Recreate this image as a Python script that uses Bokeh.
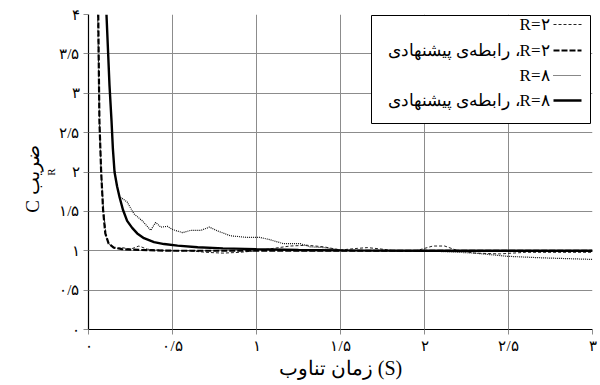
from bokeh.plotting import figure
from bokeh.models import ColumnDataSource, FixedTicker, Title
from bokeh.core.properties import value
from bokeh.embed import file_html
from bokeh.resources import INLINE

# ---- data -------------------------------------------------------------
# R = 2, measured response
r2_x = [0.055, 0.06, 0.066, 0.075, 0.09, 0.105, 0.115, 0.125, 0.14, 0.17, 0.2, 0.25,
        0.3, 0.35, 0.4, 0.5, 0.6, 0.7, 0.8, 0.9, 1.0, 1.1, 1.2, 1.3, 1.4, 1.5, 1.6,
        1.66, 1.75, 1.85, 1.95, 2.05, 2.12, 2.2, 2.3, 2.45, 2.6, 2.8, 3.0]
r2_y = [4.0, 3.3, 2.6, 2.0, 1.5, 1.18, 1.12, 1.08, 1.05, 1.03, 1.04, 1.02,
        1.06, 1.02, 1.01, 1.0, 1.0, 0.98, 0.97, 0.98, 1.0, 1.03, 1.06, 1.07, 1.05, 1.01, 1.03,
        1.04, 1.02, 0.99, 1.0, 1.06, 1.06, 1.0, 0.97, 0.96, 0.98, 0.98, 0.98]

# R = 2, proposed relation
r2p_x = [0.058, 0.062, 0.065, 0.075, 0.087, 0.10, 0.12, 0.15, 0.2, 0.3, 0.5, 1.0, 2.0, 3.0]
r2p_y = [4.0, 3.2, 2.65, 2.02, 1.51, 1.22, 1.09, 1.04, 1.02, 1.01, 1.0, 1.0, 1.0, 1.0]

# R = 8, measured response
r8_x = [0.19, 0.23, 0.27, 0.32, 0.37, 0.40, 0.43, 0.47, 0.50, 0.56, 0.61, 0.67, 0.72,
        0.77, 0.845, 0.94, 1.02, 1.08, 1.16, 1.26, 1.32, 1.40, 1.5, 1.7, 2.0, 2.3,
        2.49, 2.7, 3.0]
r8_y = [1.68, 1.62, 1.47, 1.38, 1.26, 1.36, 1.30, 1.31, 1.27, 1.23, 1.26, 1.26, 1.30,
        1.25, 1.19, 1.17, 1.17, 1.14, 1.09, 1.09, 1.05, 1.04, 1.01, 1.0, 1.0, 0.97,
        0.93, 0.91, 0.89]

# R = 8, proposed relation
r8p_x = [0.107, 0.115, 0.125, 0.137, 0.145, 0.155, 0.17, 0.185, 0.205, 0.23, 0.26, 0.29,
         0.33, 0.39, 0.45, 0.53, 0.65, 0.8, 1.0, 1.25, 1.5, 2.0, 2.5, 3.0]
r8p_y = [4.0, 3.6, 3.1, 2.65, 2.3, 2.0, 1.82, 1.68, 1.52, 1.38, 1.29, 1.22,
         1.16, 1.11, 1.085, 1.065, 1.045, 1.03, 1.02, 1.01, 1.005, 1.0, 1.0, 1.0]

x_ticks = [0, 0.5, 1, 1.5, 2, 2.5, 3]
x_tick_labels = ["۰", "۰/۵", "۱", "۱/۵", "۲", "۲/۵", "۳"]
y_ticks = [0, 0.5, 1, 1.5, 2, 2.5, 3, 3.5, 4]
y_tick_labels = ["۰", "۰/۵", "۱", "۱/۵", "۲", "۲/۵", "۳", "۳/۵", "۴"]

legend_names = ["R=۲", "R=۲، رابطه‌ی پیشنهادی", "R=۸", "R=۸، رابطه‌ی پیشنهادی"]
x_title = "زمان تناوب (S)"
y_title = "C    ضریب"
y_title_sub = "R"

# ---- figure -----------------------------------------------------------
W, H = 600, 385
LEFT, RIGHT, TOP, BOTTOM = 88, 8, 14, 56
SERIF = "Liberation Serif"
GRID = "#8c8c8c"

p = figure(width=W, height=H, x_range=(0, 3), y_range=(0, 4),
           output_backend="svg", toolbar_location=None,
           min_border_left=LEFT, min_border_right=RIGHT,
           min_border_top=TOP, min_border_bottom=BOTTOM)
p.outline_line_color = None
p.background_fill_color = "white"
p.border_fill_color = "white"

p.xgrid.ticker = FixedTicker(ticks=x_ticks)
p.ygrid.ticker = FixedTicker(ticks=y_ticks)
p.grid.grid_line_color = GRID
p.grid.grid_line_width = 1

for ax, ticks, labels in ((p.xaxis, x_ticks, x_tick_labels), (p.yaxis, y_ticks, y_tick_labels)):
    ax.ticker = FixedTicker(ticks=ticks)
    ax.major_label_overrides = {t: s for t, s in zip(ticks, labels)}
    ax.minor_tick_line_color = None
    ax.major_tick_in = 0
    ax.major_tick_out = 5
    ax.major_tick_line_color = GRID
    ax.axis_line_color = "black"
    ax.axis_line_width = 1.2
    ax.major_label_text_font = SERIF
    ax.major_label_text_font_size = "15px"
    ax.major_label_text_color = "black"
p.xaxis.major_label_standoff = 3
p.yaxis.major_label_standoff = 4

p.xaxis.axis_label = x_title
p.xaxis.axis_label_text_font = SERIF
p.xaxis.axis_label_text_font_size = "20px"
p.xaxis.axis_label_text_font_style = "normal"
p.xaxis.axis_label_text_color = "black"
p.xaxis.axis_label_standoff = 0

# vertical title: subscript column sits next to the tick labels, main text outside it
p.add_layout(Title(text=y_title_sub, text_font=SERIF, text_font_size="11px",
                   text_font_style="normal", text_color="black",
                   align="center", offset=-29, standoff=0), "left")
p.add_layout(Title(text=y_title, text_font=SERIF, text_font_size="19px",
                   text_font_style="normal", text_color="black",
                   align="center", offset=-4, standoff=0), "left")

# ---- curves -------------------------------------------------------------
src_r2 = ColumnDataSource(dict(x=r2_x, y=r2_y))
src_r2p = ColumnDataSource(dict(x=r2p_x, y=r2p_y))
src_r8 = ColumnDataSource(dict(x=r8_x, y=r8_y))
src_r8p = ColumnDataSource(dict(x=r8p_x, y=r8p_y))

styles = [
    dict(line_color="#222222", line_width=1.0, line_dash="3 2"),   # R=2
    dict(line_color="black", line_width=2.2, line_dash="6 2"),     # R=2 proposed
    dict(line_color="#111111", line_width=1.2, line_dash="1 1"),   # R=8
    dict(line_color="black", line_width=2.4),                      # R=8 proposed
]

p.line("x", "y", source=src_r8, **styles[2])
p.line("x", "y", source=src_r2, **styles[0])
p.line("x", "y", source=src_r8p, **styles[3])
p.line("x", "y", source=src_r2p, **styles[1])

# ---- legend (drawn in plot space, sample on the right) -------------------
def dx(px):
    return (px - LEFT) / ((W - LEFT - RIGHT) / 3.0)

def dy(py):
    return (H - BOTTOM - py) / ((H - TOP - BOTTOM) / 4.0)

p.quad(left=[dx(371)], right=[dx(590)], top=[dy(15)], bottom=[dy(123)],
       fill_color="white", line_color="black", line_width=1)

row_py = [24, 50, 75, 100]
for name, st, py in zip(legend_names, styles, row_py):
    p.line([dx(553), dx(581)], [dy(py), dy(py)], **st)
    p.text(x=[dx(549)], y=[dy(py)], text=["\u202b" + name + "\u202c"],
           text_font=value(SERIF), text_font_size="17px",
           text_align="right", text_baseline="middle", text_color="black")

open("out.html", "w").write(file_html(p, INLINE))
